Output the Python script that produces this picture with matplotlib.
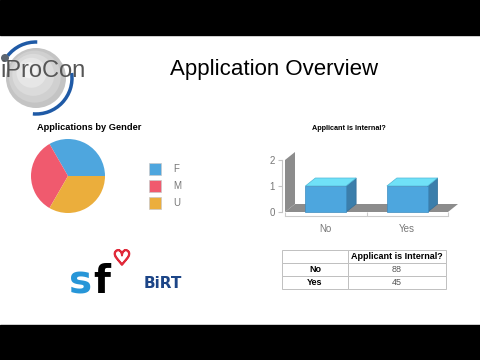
import numpy as np
import matplotlib
matplotlib.use("Agg")
import matplotlib.pyplot as plt
import matplotlib.patheffects as pe
from matplotlib.patches import Rectangle, Circle, Arc, Polygon

plt.rcParams['font.family'] = ['Liberation Sans', 'DejaVu Sans']

# data
genders = ["F", "M", "U"]
gender_counts = [1, 1, 1]
pie_colors = ["#4ea6de", "#f05a6e", "#ebae3c"]

internal_cats = ["No", "Yes"]
internal_counts = [1, 1]
table_values = [88, 45]
table_header = "Applicant is Internal?"

W, H = 480, 360


def box(x0, y0, x1, y1):
    # pixel box (top-left origin) -> figure fraction
    return [x0 / W, (H - y1) / H, (x1 - x0) / W, (y1 - y0) / H]


fig = plt.figure(figsize=(4.8, 3.6), dpi=100)
fig.patch.set_facecolor("white")

# decoration layer in pixel coords (y goes down)
deco = fig.add_axes([0, 0, 1, 1], zorder=0)
deco.set_xlim(0, W)
deco.set_ylim(H, 0)
deco.axis("off")
deco.add_patch(Rectangle((0, 0), W, 35, color="black"))
deco.add_patch(Rectangle((0, 325), W, 35, color="black"))

# iProCon logo
for r, c in [(30, "#c4c4c4"), (26, "#d0d0d0"), (21, "#dbdbdb"), (15, "#e6e6e6"), (8, "#f1f1f1")]:
    deco.add_patch(Circle((36 - (30 - r) * 0.3, 78 - (30 - r) * 0.35), r, color=c, lw=0))
# angles are mirrored because the y axis is inverted
deco.add_patch(Arc((36, 78), 72, 72, theta1=-142, theta2=-88, color="#1f5aa6", lw=2.5))
deco.add_patch(Arc((36, 78), 72, 72, theta1=-8, theta2=95, color="#1f5aa6", lw=2.5))
deco.add_patch(Circle((5, 58), 4, color="#5d6670", lw=0))
deco.text(0, 77, "iProCon", fontsize=17, color="#555555", ha="left", va="baseline")

deco.text(274, 69, "Application Overview", fontsize=16, color="black", ha="center", va="center")

# sf / BIRT logo
deco.text(69, 293, "s", fontsize=28, fontweight="bold", color="#2796d8",
          family="DejaVu Sans", ha="left", va="baseline")
deco.text(93, 293, "f", fontsize=28, fontweight="bold", color="black",
          family="DejaVu Sans", ha="left", va="baseline")
deco.text(122, 259, "\u2661", fontsize=15, color="#e02a3a", family="DejaVu Sans",
          ha="center", va="center",
          path_effects=[pe.withStroke(linewidth=1.3, foreground="#e02a3a")])
deco.text(163, 284, "BiRT", fontsize=11, fontweight="heavy", color="#1c4587",
          family="DejaVu Sans", ha="center", va="center")

# pie chart
deco.text(89, 128, "Applications by Gender", fontsize=6.7, fontweight="bold",
          ha="center", va="center")
pax = fig.add_axes(box(31, 139, 105, 213), zorder=2)
pax.pie(gender_counts, colors=pie_colors, startangle=0, counterclock=True,
        wedgeprops=dict(linewidth=0))
pax.set_xlim(-1, 1)
pax.set_ylim(-1, 1)
pax.set_aspect("equal")
for i, (lab, col) in enumerate(zip(genders, pie_colors)):
    yc = 169 + i * 17
    deco.add_patch(Rectangle((149, yc - 6), 12, 12, facecolor=col, edgecolor="#c9c9c9", lw=0.5))
    deco.text(173, yc, lab, fontsize=7, color="#777777", ha="left", va="center")

# 3d-ish bar chart
deco.text(349, 128, "Applicant is Internal?", fontsize=5.2, fontweight="bold",
          ha="center", va="center")
bax = fig.add_axes(box(285, 160, 448, 212), zorder=2)
bax.set_facecolor("none")
x = np.arange(len(internal_cats))
bax.set_xlim(-0.5, len(internal_cats) - 0.5)
bax.set_ylim(0, 2)
ddx = 10 / 81.5
ddy = 8 / 26.0
gray = "#8c8c8c"
x0, x1 = -0.5, len(internal_cats) - 0.5
bax.add_patch(Polygon([(x0, 0), (x1, 0), (x1 + ddx, ddy), (x0 + ddx, ddy)],
                      closed=True, color=gray, lw=0, clip_on=False, zorder=1))
bax.add_patch(Polygon([(x0, 0), (x0, 2), (x0 + ddx, 2 + ddy), (x0 + ddx, ddy)],
                      closed=True, color=gray, lw=0, clip_on=False, zorder=1))
bw = 0.5
for xi, v in zip(x, internal_counts):
    xl, xr = xi - bw / 2, xi + bw / 2
    bax.add_patch(Polygon([(xr, 0), (xr, v), (xr + ddx, v + ddy), (xr + ddx, ddy)],
                          closed=True, facecolor="#3b7eab", edgecolor="#336f98",
                          lw=0.5, clip_on=False, zorder=3))
    bax.add_patch(Polygon([(xl, v), (xr, v), (xr + ddx, v + ddy), (xl + ddx, v + ddy)],
                          closed=True, facecolor="#70e1f7", edgecolor="#4fb8d8",
                          lw=0.5, clip_on=False, zorder=3))
bax.bar(x, internal_counts, width=bw, color="#4da6de", edgecolor="#3d8cc0",
        linewidth=0.5, zorder=4, clip_on=False)

for s in ["top", "right"]:
    bax.spines[s].set_visible(False)
bax.spines["left"].set_position(("outward", 2.2))
bax.spines["left"].set_color("#c4c4c4")
bax.spines["bottom"].set_position(("outward", 2.9))
bax.spines["bottom"].set_color("#cccccc")
bax.set_yticks([0, 1, 2])
bax.tick_params(axis="y", colors="#c4c4c4", labelcolor="#777777", labelsize=7,
                length=3, pad=2)
bax.set_xticks([-0.5, 0.5, 1.5])
bax.set_xticklabels([])
bax.tick_params(axis="x", which="major", colors="#cccccc", direction="in", length=3)
bax.set_xticks(x, minor=True)
bax.set_xticklabels(internal_cats, minor=True)
bax.tick_params(axis="x", which="minor", length=0, labelsize=7, labelcolor="#777777", pad=6)

# table
tax = fig.add_axes(box(282, 250, 446, 289), zorder=2)
tax.axis("off")
cells = [["", table_header]] + [[c, str(v)] for c, v in zip(internal_cats, table_values)]
tbl = tax.table(cellText=cells, bbox=[0, 0, 1, 1], colWidths=[66 / 164, 98 / 164],
                cellLoc="center")
tbl.auto_set_font_size(False)
for (r, c), cell in tbl.get_celld().items():
    cell.set_edgecolor("#c0c0c0")
    cell.set_linewidth(0.7)
    cell.get_text().set_fontsize(6.5)
    if r == 0 or c == 0:
        cell.get_text().set_fontweight("bold")
    else:
        cell.get_text().set_color("#555555")

fig.savefig("out.png", dpi=100, facecolor=fig.get_facecolor())
